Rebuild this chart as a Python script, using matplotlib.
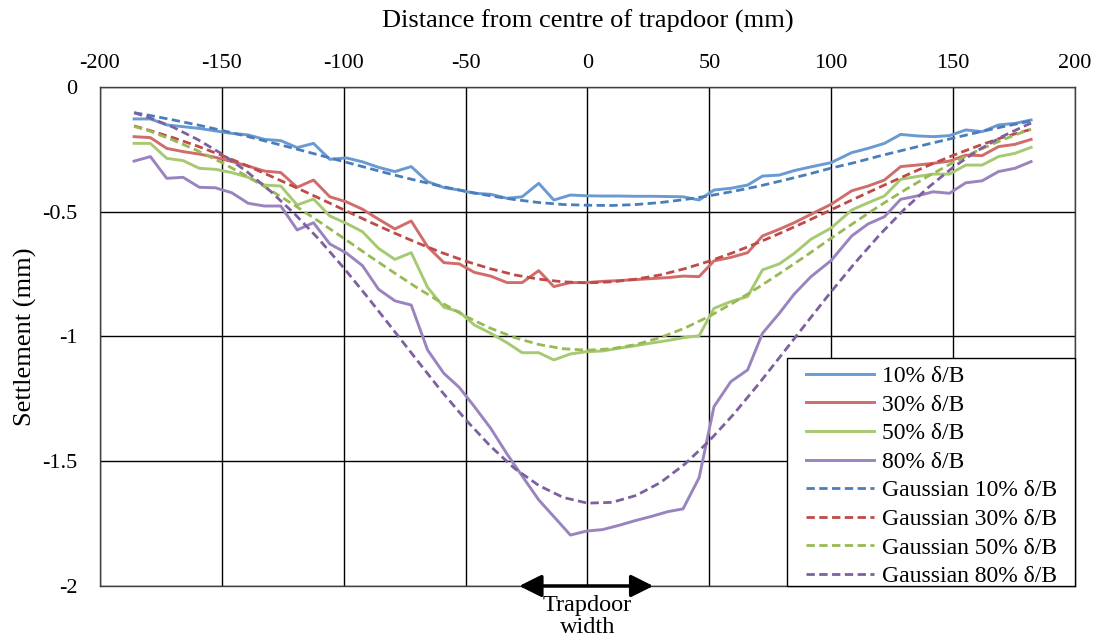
#!/usr/bin/env python3
"""
Surface settlement above trapdoor: measured profiles vs Gaussian fits
"""
import matplotlib
matplotlib.use('Agg')
import matplotlib.pyplot as plt
from matplotlib.patches import Rectangle

plt.rcParams['font.family'] = ['Liberation Serif', 'DejaVu Serif']
plt.rcParams['axes.unicode_minus'] = False

# Measured profiles (mm)
x_meas = [-186.0, -179.3, -172.6, -165.9, -159.2, -152.6, -145.9, -139.2, -132.5, -125.8,
          -119.1, -112.4, -105.7, -99.0, -92.3, -85.7, -79.0, -72.3, -65.6, -58.9,
          -52.6, -46.4, -39.7, -33.0, -26.8, -20.0, -13.8, -7.0, -0.5, 6.2,
          12.9, 19.6, 26.3, 33.0, 39.2, 45.8, 51.9, 58.8, 65.7, 71.8,
          78.7, 84.8, 91.7, 100.0, 108.4, 115.1, 121.8, 128.5, 135.1, 141.8,
          148.5, 155.2, 161.9, 168.6, 175.3, 182.0]

s10 = [-0.128, -0.128, -0.152, -0.159, -0.166, -0.176, -0.186, -0.192, -0.210, -0.215,
       -0.243, -0.226, -0.290, -0.284, -0.300, -0.322, -0.339, -0.319, -0.379, -0.403,
       -0.413, -0.426, -0.430, -0.446, -0.440, -0.386, -0.453, -0.433, -0.436, -0.437,
       -0.437, -0.438, -0.438, -0.439, -0.440, -0.453, -0.413, -0.406, -0.393, -0.357,
       -0.353, -0.335, -0.320, -0.303, -0.263, -0.246, -0.226, -0.190, -0.196, -0.199,
       -0.195, -0.172, -0.179, -0.152, -0.146, -0.132]

s30 = [-0.199, -0.203, -0.246, -0.259, -0.269, -0.282, -0.299, -0.317, -0.337, -0.343,
       -0.402, -0.373, -0.440, -0.460, -0.490, -0.530, -0.569, -0.537, -0.640, -0.704,
       -0.709, -0.743, -0.758, -0.784, -0.784, -0.736, -0.800, -0.784, -0.784, -0.779,
       -0.776, -0.772, -0.768, -0.764, -0.758, -0.760, -0.697, -0.683, -0.664, -0.597,
       -0.570, -0.544, -0.510, -0.470, -0.416, -0.397, -0.373, -0.319, -0.313, -0.306,
       -0.297, -0.273, -0.275, -0.239, -0.230, -0.210]

s50 = [-0.226, -0.226, -0.286, -0.295, -0.326, -0.330, -0.343, -0.362, -0.393, -0.397,
       -0.473, -0.449, -0.517, -0.546, -0.580, -0.647, -0.691, -0.664, -0.803, -0.883,
       -0.901, -0.954, -0.987, -1.025, -1.065, -1.065, -1.094, -1.070, -1.061, -1.058,
       -1.047, -1.037, -1.026, -1.016, -1.005, -0.997, -0.887, -0.860, -0.840, -0.733,
       -0.709, -0.667, -0.610, -0.565, -0.493, -0.464, -0.437, -0.370, -0.359, -0.349,
       -0.349, -0.313, -0.313, -0.279, -0.266, -0.242]

s80 = [-0.297, -0.279, -0.366, -0.362, -0.402, -0.404, -0.424, -0.466, -0.477, -0.477,
       -0.573, -0.544, -0.629, -0.665, -0.716, -0.811, -0.857, -0.874, -1.054, -1.148,
       -1.204, -1.281, -1.368, -1.471, -1.559, -1.655, -1.722, -1.796, -1.780, -1.774,
       -1.757, -1.738, -1.721, -1.702, -1.691, -1.566, -1.281, -1.181, -1.134, -0.987,
       -0.907, -0.830, -0.760, -0.695, -0.597, -0.549, -0.520, -0.450, -0.437, -0.420,
       -0.426, -0.384, -0.376, -0.339, -0.326, -0.299]

# Gaussian fitted curves
x_gauss = [-186, -180, -170, -160, -150, -140, -130, -120, -110, -100,
           -90, -80, -70, -60, -50, -40, -30, -20, -10, 0,
           10, 20, 30, 40, 50, 60, 70, 80, 90, 100,
           110, 120, 130, 140, 150, 160, 170, 180, 182]
g10 = [-0.103, -0.113, -0.132, -0.152, -0.174, -0.197, -0.222, -0.247, -0.273, -0.299,
       -0.325, -0.351, -0.375, -0.398, -0.418, -0.436, -0.451, -0.463, -0.471, -0.474,
       -0.475, -0.471, -0.463, -0.451, -0.436, -0.418, -0.398, -0.375, -0.351, -0.325,
       -0.302, -0.276, -0.252, -0.228, -0.205, -0.182, -0.160, -0.140, -0.135]
g30 = [-0.156, -0.173, -0.203, -0.237, -0.274, -0.314, -0.357, -0.401, -0.446, -0.492,
       -0.538, -0.582, -0.624, -0.663, -0.698, -0.728, -0.753, -0.770, -0.781, -0.785,
       -0.781, -0.770, -0.753, -0.728, -0.698, -0.663, -0.624, -0.582, -0.538, -0.492,
       -0.446, -0.401, -0.357, -0.314, -0.274, -0.237, -0.203, -0.175, -0.170]
g50 = [-0.158, -0.175, -0.213, -0.255, -0.303, -0.356, -0.414, -0.475, -0.540, -0.606,
       -0.674, -0.740, -0.804, -0.864, -0.919, -0.966, -1.004, -1.032, -1.049, -1.055,
       -1.049, -1.032, -1.004, -0.966, -0.919, -0.864, -0.804, -0.740, -0.674, -0.606,
       -0.540, -0.475, -0.414, -0.356, -0.303, -0.255, -0.213, -0.175, -0.170]
g80 = [-0.103, -0.122, -0.161, -0.210, -0.268, -0.337, -0.418, -0.510, -0.612, -0.725,
       -0.845, -0.969, -1.094, -1.218, -1.333, -1.438, -1.528, -1.597, -1.645, -1.668,
       -1.665, -1.637, -1.585, -1.511, -1.418, -1.311, -1.193, -1.069, -0.944, -0.820,
       -0.702, -0.591, -0.490, -0.401, -0.322, -0.255, -0.199, -0.153, -0.145]

labels = ['10% δ/B', '30% δ/B', '50% δ/B', '80% δ/B']
solid_colors = ['#6A9AD2', '#D06C6A', '#A6C972', '#9A84BF']
dash_colors = ['#4A7EBB', '#BE4B48', '#98B954', '#7D60A0']

trapdoor = [-28, 27]

fig = plt.figure(figsize=(11.02, 6.44), dpi=100)
ax = fig.add_axes([0.0907, 0.0901, 0.8848, 0.7748])

for ys, c, lab in zip([s10, s30, s50, s80], solid_colors, labels):
    ax.plot(x_meas, ys, '-', color=c, lw=2.1, label=lab, zorder=3)
for ys, c, lab in zip([g10, g30, g50, g80], dash_colors, labels):
    ax.plot(x_gauss, ys, '--', color=c, lw=2.0, dashes=(3, 1.6),
            label='Gaussian ' + lab, zorder=4)

ax.set_xlim(-200, 200)
ax.set_ylim(-2, 0)
ax.set_xticks(range(-200, 201, 50))
ax.set_yticks([0, -0.5, -1, -1.5, -2])
ax.set_yticklabels(['0', '-0.5', '-1', '-1.5', '-2'])
ax.xaxis.tick_top()
ax.xaxis.set_label_position('top')
ax.tick_params(axis='both', length=0, labelsize=16)
ax.tick_params(axis='x', pad=10)
ax.tick_params(axis='y', pad=16)
ax.grid(True, color='black', lw=1.0)
ax.set_axisbelow(True)
for sp in ax.spines.values():
    sp.set_color('#404040')
    sp.set_linewidth(1.0)

ax.set_xlabel('Distance from centre of trapdoor (mm)', fontsize=19, labelpad=19)
ax.set_ylabel('Settlement (mm)', fontsize=19, labelpad=4)

# legend box drawn separately so the padding can match
frame = Rectangle((0.7046, 0.0), 0.2954, 0.457, transform=ax.transAxes,
                  facecolor='white', edgecolor='black', lw=1.0, zorder=9,
                  clip_on=False)
ax.add_patch(frame)
leg = ax.legend(loc='upper left', bbox_to_anchor=(0.7241, 0.442), borderaxespad=0,
                fontsize=17, frameon=False, borderpad=0, handlelength=2.9,
                handletextpad=0.3, labelspacing=0.3)
leg.set_zorder(10)

# trapdoor width marker
ax.annotate('', xy=(trapdoor[0], -2), xytext=(trapdoor[1], -2),
            arrowprops=dict(arrowstyle='<|-|>,head_length=0.9,head_width=0.45',
                            color='black', lw=2.5, mutation_scale=15,
                            shrinkA=0, shrinkB=0),
            annotation_clip=False, zorder=6)
ax.text(0, -2.035, 'Trapdoor\nwidth', ha='center', va='top', fontsize=17.5,
        linespacing=1.1, clip_on=False)

fig.savefig('out.png', dpi=100)
